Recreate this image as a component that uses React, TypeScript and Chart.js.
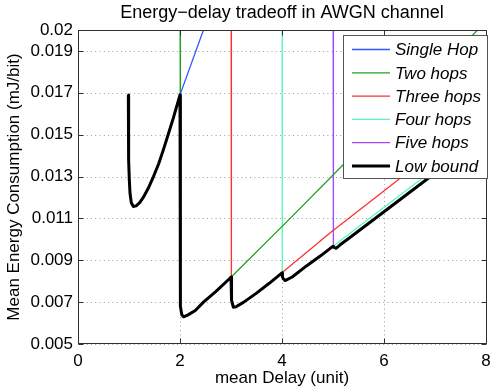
import React, { useEffect, useRef } from "react";
import { Chart, registerables } from "chart.js";

Chart.register(...registerables);

const FONT = "'Liberation Sans', Arial, Helvetica, sans-serif";

const titleText = "Energy\u2212delay tradeoff in AWGN channel";
const xTitle = "mean Delay (unit)";
const yTitle = "Mean Energy Consumption (mJ/bit)";

const seriesNames = ["Single Hop", "Two hops", "Three hops", "Four hops", "Five hops", "Low bound"];
const seriesColors = ["#3355ff", "#22a022", "#ff3030", "#5cf7b6", "#a347ff", "#000000"];
const seriesWidths = [1.3, 1.3, 1.3, 1.3, 1.3, 3];

const singleHopX = [0.987, 0.99, 0.995, 1.006, 1.02, 1.045, 1.085, 1.14, 1.21, 1.28, 1.38, 1.48, 1.58, 1.67, 1.77, 1.87, 2.0, 2.46, 2.7];
const singleHopY = [0.0169, 0.015, 0.0138, 0.01285, 0.0122, 0.01175, 0.01157, 0.0116, 0.01175, 0.012, 0.01245, 0.013, 0.0136, 0.01425, 0.01502, 0.0158, 0.0169, 0.02, 0.0217];

const twoHopsX = [2.0, 2.002, 2.006, 2.015, 2.035, 2.07, 2.15, 2.3, 2.46, 2.7, 2.98, 4.16, 5.2, 8.0];
const twoHopsY = [0.03, 0.011, 0.0078, 0.0068, 0.0064, 0.0063, 0.00638, 0.0066, 0.007, 0.0075, 0.00814, 0.011, 0.01356, 0.0204];

const threeHopsX = [3.0, 3.002, 3.006, 3.015, 3.045, 3.1, 3.25, 3.5, 3.75, 4.0, 4.94, 6.28, 8.0];
const threeHopsY = [0.03, 0.011, 0.008, 0.0071, 0.00676, 0.00678, 0.007, 0.00743, 0.0079, 0.0084, 0.0103, 0.01285, 0.0163];

const fourHopsX = [4.0, 4.002, 4.006, 4.012, 4.025, 4.06, 4.2, 4.48, 4.75, 4.99, 5.5, 6.71, 8.0];
const fourHopsY = [0.03, 0.0115, 0.009, 0.0083, 0.00812, 0.00803, 0.0082, 0.00873, 0.0092, 0.00965, 0.0106, 0.01285, 0.0153];

const fiveHopsX = [5.0, 5.002, 5.006, 5.015, 5.035, 5.06, 5.14, 5.3, 6.0, 6.9, 8.0];
const fiveHopsY = [0.03, 0.012, 0.01, 0.00968, 0.0096, 0.00957, 0.00974, 0.01003, 0.01132, 0.01298, 0.015];

const lowBoundX = [0.987, 0.99, 0.995, 1.006, 1.02, 1.045, 1.085, 1.14, 1.21, 1.28, 1.38, 1.48, 1.58, 1.67, 1.77, 1.87, 2.0,
  2.002, 2.006, 2.015, 2.035, 2.07, 2.15, 2.3, 2.46, 2.7, 2.98, 3.0,
  3.006, 3.015, 3.045, 3.1, 3.25, 3.5, 3.75, 4.0,
  4.006, 4.012, 4.025, 4.06, 4.2, 4.48, 4.75, 4.99, 5.0,
  5.015, 5.035, 5.06, 5.14, 5.3, 6.0, 6.9, 8.0];
const lowBoundY = [0.0169, 0.015, 0.0138, 0.01285, 0.0122, 0.01175, 0.01157, 0.0116, 0.01175, 0.012, 0.01245, 0.013, 0.0136, 0.01425, 0.01502, 0.0158, 0.0169,
  0.011, 0.0078, 0.0068, 0.0064, 0.0063, 0.00638, 0.0066, 0.007, 0.0075, 0.00814, 0.0082,
  0.008, 0.0071, 0.00676, 0.00678, 0.007, 0.00743, 0.0079, 0.0084,
  0.0083, 0.0082, 0.00812, 0.00803, 0.0082, 0.00873, 0.0092, 0.00965, 0.00966,
  0.00962, 0.0096, 0.00957, 0.00974, 0.01003, 0.01132, 0.01298, 0.015];

const xTickValues = [0, 2, 4, 6, 8];
const yTickValues = [0.005, 0.007, 0.009, 0.011, 0.013, 0.015, 0.017, 0.019, 0.02];
const yTickLabels = ["0.005", "0.007", "0.009", "0.011", "0.013", "0.015", "0.017", "0.019", "0.02"];

const seriesX = [singleHopX, twoHopsX, threeHopsX, fourHopsX, fiveHopsX, lowBoundX];
const seriesY = [singleHopY, twoHopsY, threeHopsY, fourHopsY, fiveHopsY, lowBoundY];

const AXIS_COLOR = "#303030";

const gridPlugin = {
  id: "dottedGrid",
  beforeDatasetsDraw(chart: any) {
    const { ctx, chartArea: a, scales } = chart;
    ctx.save();
    ctx.strokeStyle = "#9a9a9a";
    ctx.lineWidth = 1;
    ctx.setLineDash([1, 3.3]);
    ctx.beginPath();
    for (const v of xTickValues) {
      const px = Math.round(scales.x.getPixelForValue(v)) + 0.5;
      ctx.moveTo(px, a.bottom);
      ctx.lineTo(px, a.top);
    }
    for (const v of yTickValues) {
      const py = Math.round(scales.y.getPixelForValue(v)) + 0.5;
      ctx.moveTo(a.left, py);
      ctx.lineTo(a.right, py);
    }
    ctx.stroke();
    ctx.restore();
  },
};

const boxPlugin = {
  id: "matlabBox",
  afterDatasetsDraw(chart: any) {
    const { ctx, chartArea: a, scales } = chart;
    ctx.save();
    const L = Math.round(a.left) + 0.5;
    const R = Math.round(a.right) + 0.5;
    const T = Math.round(a.top) + 0.5;
    const B = Math.round(a.bottom) - 0.5;
    ctx.strokeStyle = AXIS_COLOR;
    ctx.lineWidth = 1;
    ctx.beginPath();
    ctx.rect(L, T, R - L, B - T);
    ctx.stroke();
    const tl = 5;
    ctx.beginPath();
    for (const v of xTickValues) {
      const px = Math.round(scales.x.getPixelForValue(v)) + 0.5;
      ctx.moveTo(px, B);
      ctx.lineTo(px, B - tl);
      ctx.moveTo(px, T);
      ctx.lineTo(px, T + tl);
    }
    for (const v of yTickValues) {
      const py = Math.round(scales.y.getPixelForValue(v)) + 0.5;
      ctx.moveTo(L, py);
      ctx.lineTo(L + tl, py);
      ctx.moveTo(R, py);
      ctx.lineTo(R - tl, py);
    }
    ctx.stroke();

    // legend
    const lx = Math.round(a.left + 265) + 0.5;
    const ly = Math.round(a.top + 5) + 0.5;
    const lw = 144;
    const lh = 143;
    ctx.fillStyle = "#ffffff";
    ctx.fillRect(lx, ly, lw, lh);
    ctx.strokeStyle = "#555555";
    ctx.strokeRect(lx, ly, lw, lh);
    ctx.font = `italic 17px ${FONT}`;
    ctx.textBaseline = "middle";
    ctx.textAlign = "left";
    for (let i = 0; i < seriesNames.length; i++) {
      const ry = ly + 14 + i * 23.3;
      ctx.strokeStyle = seriesColors[i];
      ctx.lineWidth = seriesWidths[i];
      ctx.beginPath();
      ctx.moveTo(lx + 8.5, ry);
      ctx.lineTo(lx + 46.5, ry);
      ctx.stroke();
      ctx.fillStyle = "#000000";
      ctx.fillText(seriesNames[i], lx + 51.5, ry + 1);
    }
    ctx.restore();
  },
};

export default function App() {
  const canvasRef = useRef<HTMLCanvasElement | null>(null);

  useEffect(() => {
    const canvas = canvasRef.current;
    if (!canvas) return;
    const datasets = seriesNames.map((name, i) => ({
      label: name,
      data: seriesX[i].map((x, j) => ({ x, y: seriesY[i][j] })),
      borderColor: seriesColors[i],
      backgroundColor: seriesColors[i],
      borderWidth: seriesWidths[i],
      pointRadius: 0,
      tension: 0,
      fill: false,
      clip: 0,
      order: i === seriesNames.length - 1 ? 0 : 1,
      borderJoinStyle: "round" as const,
      borderCapStyle: "butt" as const,
    }));

    const chart = new Chart(canvas, {
      type: "line",
      data: { datasets },
      plugins: [gridPlugin, boxPlugin],
      options: {
        animation: false,
        responsive: false,
        events: [],
        layout: { padding: { left: 0, right: 12, top: 0, bottom: 0 } },
        plugins: {
          legend: { display: false },
          tooltip: { enabled: false },
          title: {
            display: true,
            fullSize: false,
            text: titleText,
            color: "#000",
            font: { family: FONT, size: 18, weight: "normal" },
            padding: { top: 2.4, bottom: 6 },
          },
        },
        scales: {
          x: {
            type: "linear",
            min: 0,
            max: 8,
            afterBuildTicks: (scale: any) => {
              scale.ticks = xTickValues.map((v) => ({ value: v }));
            },
            afterFit: (scale: any) => {
              scale.height = 47;
            },
            ticks: {
              color: "#000",
              font: { family: FONT, size: 17 },
              padding: 7,
              maxRotation: 0,
              autoSkip: false,
              callback: (v: any) => String(v),
            },
            grid: { display: false, drawTicks: false, tickLength: 0 },
            border: { display: false },
            title: {
              display: true,
              text: xTitle,
              color: "#000",
              font: { family: FONT, size: 17 },
              padding: { top: 0, bottom: 2 },
            },
          },
          y: {
            type: "linear",
            min: 0.005,
            max: 0.02,
            afterBuildTicks: (scale: any) => {
              scale.ticks = yTickValues.map((v) => ({ value: v }));
            },
            afterFit: (scale: any) => {
              scale.width = 78;
            },
            ticks: {
              color: "#000",
              font: { family: FONT, size: 17 },
              padding: 5,
              autoSkip: false,
              callback: (_v: any, idx: number) => yTickLabels[idx],
            },
            grid: { display: false, drawTicks: false, tickLength: 0 },
            border: { display: false },
            title: {
              display: true,
              text: yTitle,
              color: "#000",
              font: { family: FONT, size: 17 },
              padding: { top: 4, bottom: 0 },
            },
          },
        },
      },
    } as any);

    return () => {
      chart.destroy();
    };
  }, []);

  return (
    <div style={{ position: "fixed", left: 0, top: 0, width: 498, height: 391, background: "#fff" }}>
      <canvas ref={canvasRef} width={498} height={391} style={{ width: 498, height: 391, display: "block" }} />
    </div>
  );
}
